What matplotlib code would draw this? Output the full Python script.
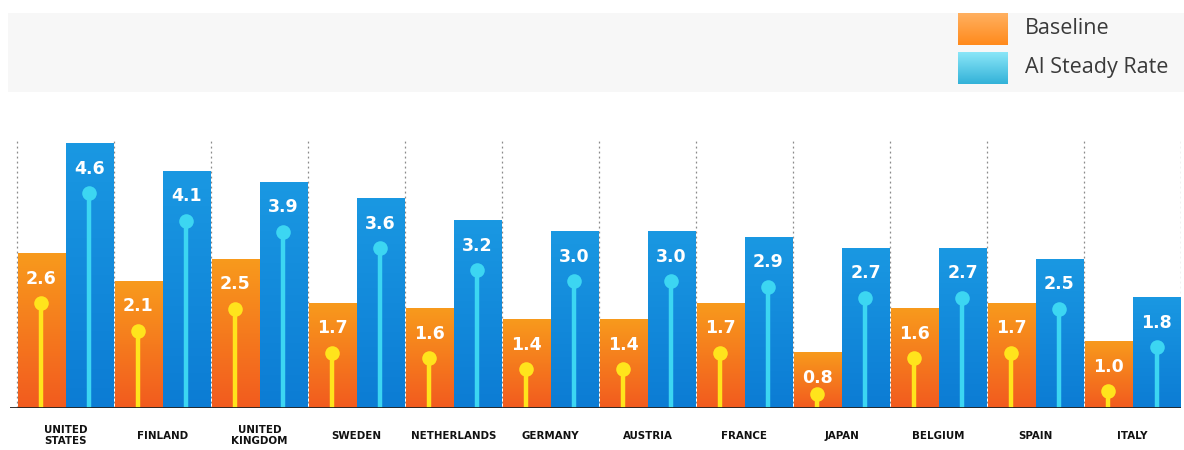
import numpy as np
import matplotlib
matplotlib.use('Agg')
import matplotlib.pyplot as plt
from matplotlib.colors import LinearSegmentedColormap
from matplotlib.patches import Rectangle

# values
countries = ['UNITED\nSTATES', 'FINLAND', 'UNITED\nKINGDOM', 'SWEDEN', 'NETHERLANDS',
             'GERMANY', 'AUSTRIA', 'FRANCE', 'JAPAN', 'BELGIUM', 'SPAIN', 'ITALY']
baseline = [2.6, 2.1, 2.5, 1.7, 1.6, 1.4, 1.4, 1.7, 0.8, 1.6, 1.7, 1.0]
ai_rate = [4.6, 4.1, 3.9, 3.6, 3.2, 3.0, 3.0, 2.9, 2.7, 2.7, 2.5, 1.8]
series_names = ['Baseline', 'AI Steady Rate']

W, H = 1184, 450
fig = plt.figure(figsize=(W / 100, H / 100), dpi=100)

# header band with the legend, drawn in pixel coordinates
hdr = fig.add_axes([0, 0, 1, 1])
hdr.axis('off')
hdr.add_patch(Rectangle((8, 13), W - 8, 79, color='#f7f7f7', lw=0, zorder=0))
leg_colors = [('#ffb060', '#ff8a1c'), ('#8ae6f8', '#33b2d8')]
for k, (name, (c_top, c_bot)) in enumerate(zip(series_names, leg_colors)):
    y0 = 13 + k * 39
    grad = np.linspace(0, 1, 64).reshape(-1, 1)
    cm = LinearSegmentedColormap.from_list('lg%d' % k, [c_top, c_bot])
    hdr.imshow(grad, cmap=cm, extent=(958, 1008, y0 + 32, y0), aspect='auto', zorder=1)
    hdr.text(1025, y0 + 15, name, fontsize=15.5, family='Open Sans', color='#3a3a3a',
             va='center', ha='left')
hdr.set_xlim(0, W)
hdr.set_ylim(H, 0)

# main bar axes
ax = fig.add_axes([10 / W, 42 / H, 1171 / W, 268 / H])
ax.patch.set_alpha(0)
n = len(countries)
x = np.arange(n)
bw = 0.485
off = 0.2  # bars start a little below the zero line, as in the original

orange_cm = LinearSegmentedColormap.from_list('org', ['#f89a1c', '#f25b1f'])
blue_cm = LinearSegmentedColormap.from_list('blu', ['#1a98e2', '#0c7cd4'])

for vals, xs, cm, pin_col in [(baseline, x + 0.01, orange_cm, '#ffe41c'),
                              (ai_rate, x + 0.505, blue_cm, '#3cd6f2')]:
    vals = np.array(vals)
    bars = ax.bar(xs, vals + off, bottom=-off, width=bw, align='edge',
                  color=cm(0.5), lw=0, zorder=2)
    for b, v in zip(bars, vals):
        grad = np.linspace(0, 1, 128).reshape(-1, 1)
        ax.imshow(grad, cmap=cm, aspect='auto', zorder=2.1,
                  extent=(b.get_x(), b.get_x() + b.get_width(), -off, v))
    cx = xs + bw / 2
    pins = np.maximum(vals - 0.9, -off + 0.25)
    ax.vlines(cx, -off, pins, color=pin_col, lw=3.2, zorder=3)
    ax.scatter(cx, pins, s=110, color=pin_col, lw=0, zorder=4)
    for xi, v in zip(cx, vals):
        ax.text(xi, v - 0.45, '%.1f' % v, color='white', fontsize=12.5,
                fontweight='bold', ha='center', va='center', zorder=5)

# dotted group separators
for b in range(n + 1):
    ax.axvline(b, color='#8a8a8a', lw=0.9, ls=(0, (1.5, 2.5)), zorder=1)

ax.axhline(-off, color='#222222', lw=2, zorder=6)

for xi, name in zip(x, countries):
    ax.text(xi + 0.5, -off - 0.5, name, fontsize=7.4, fontweight='heavy',
            ha='center', va='center', color='#111111', linespacing=1.1)

ax.set_xlim(-0.07, n)
ax.set_ylim(-off, 4.67)
ax.axis('off')

fig.savefig('out.png', dpi=100)
